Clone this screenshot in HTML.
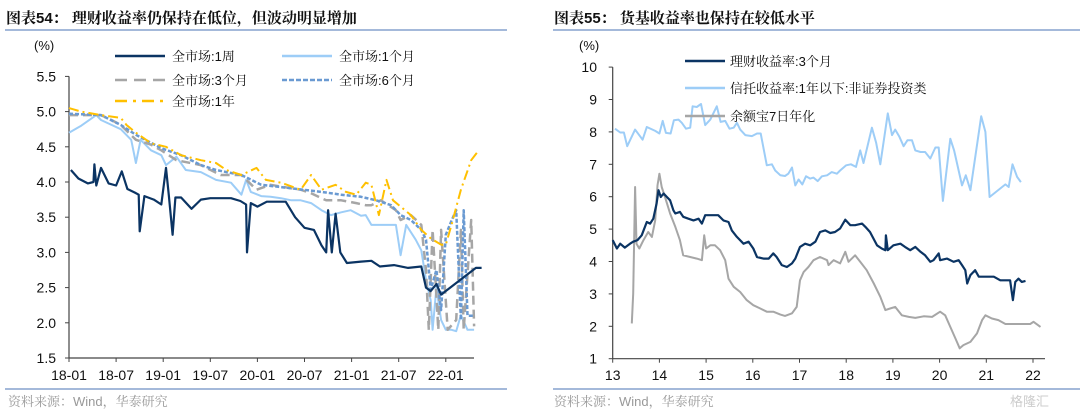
<!DOCTYPE html>
<html><head><meta charset="utf-8">
<style>
html,body{margin:0;padding:0;background:#fff;}
svg{display:block;}
text{font-family:"Liberation Sans","Noto Sans CJK SC",sans-serif;}
.cn{font-family:"Liberation Sans","Noto Serif CJK SC","Noto Sans CJK SC",serif;}
</style></head>
<body>
<svg id="root" width="1080" height="415" viewBox="0 0 1080 415" xmlns="http://www.w3.org/2000/svg">
  <text x="6" y="23" font-size="15" font-weight="bold" fill="#111" class="cn">图表54：  理财收益率仍保持在低位，但波动明显增加</text>
  <line x1="5" y1="30" x2="507" y2="30" stroke="#6d8fc4" stroke-width="1.2"/>
  <text x="554" y="23" font-size="15" font-weight="bold" fill="#111" class="cn">图表55：  货基收益率也保持在较低水平</text>
  <line x1="553" y1="30" x2="1080" y2="30" stroke="#6d8fc4" stroke-width="1.2"/>
  <line x1="5" y1="389" x2="507" y2="389" stroke="#6d8fc4" stroke-width="1.2"/>
  <line x1="553" y1="389" x2="1080" y2="389" stroke="#6d8fc4" stroke-width="1.2"/>
  <text x="8" y="406" font-size="13" fill="#999" class="cn">资料来源：Wind，华泰研究</text>
  <text x="554" y="406" font-size="13" fill="#999" class="cn">资料来源：Wind，华泰研究</text>
  <text x="1010" y="406" font-size="13" fill="#ccc">格隆汇</text>
  <g id="left"></g>
  <g id="right"></g>
</svg>
<script>
// ---------- LEFT CHART DATA ----------
const leftXTicks = ["18-01","18-07","19-01","19-07","20-01","20-07","21-01","21-07","22-01"];
const leftXTickYears = [2018,2018.5,2019,2019.5,2020,2020.5,2021,2021.5,2022];
const leftYTicks = [1.5,2.0,2.5,3.0,3.5,4.0,4.5,5.0,5.5];
const week1Dates = [2018.02,2018.10,2018.2,2018.26,2018.27,2018.29,2018.34,2018.42,2018.5,2018.56,2018.62,2018.7,2018.74,2018.75,2018.8,2018.9,2018.98,2019.03,2019.06,2019.1,2019.13,2019.19,2019.3,2019.4,2019.5,2019.72,2019.82,2019.88,2019.89,2019.93,2020.0,2020.1,2020.3,2020.4,2020.5,2020.6,2020.68,2020.73,2020.75,2020.79,2020.83,2020.88,2020.95,2021.1,2021.21,2021.3,2021.45,2021.6,2021.74,2021.79,2021.84,2021.9,2021.95,2022.32,2022.38];
const week1Values = [4.17,4.05,3.98,4.0,4.25,3.95,4.2,3.98,3.95,4.15,3.9,3.85,3.82,3.3,3.8,3.75,3.68,4.2,3.8,3.25,3.78,3.78,3.62,3.75,3.77,3.77,3.73,3.68,3.0,3.7,3.65,3.72,3.72,3.5,3.35,3.32,3.1,3.0,3.6,3.0,3.55,3.0,2.85,2.87,2.88,2.8,2.82,2.78,2.8,2.5,2.45,2.55,2.4,2.78,2.78];
const month1Dates = [2018.0,2018.13,2018.29,2018.34,2018.55,2018.66,2018.71,2018.76,2018.87,2018.98,2019.03,2019.14,2019.24,2019.40,2019.56,2019.72,2019.83,2019.88,2019.93,2020.04,2020.14,2020.25,2020.36,2020.46,2020.57,2020.68,2020.78,2020.89,2020.99,2021.10,2021.15,2021.21,2021.31,2021.47,2021.52,2021.58,2021.68,2021.74,2021.79,2021.84,2021.86,2021.90,2021.95,2022.00,2022.06,2022.11,2022.16,2022.23,2022.30];
const month1Values = [4.70,4.80,4.95,4.88,4.75,4.60,4.27,4.60,4.45,4.38,4.24,4.36,4.17,4.14,4.03,3.99,3.82,4.03,3.86,3.80,3.79,3.77,3.74,3.74,3.70,3.60,3.53,3.57,3.60,3.52,3.53,3.39,3.39,3.39,2.96,3.39,3.18,3.03,2.61,2.32,1.90,2.50,2.04,1.90,1.90,1.88,2.11,1.90,1.90];
const month3Dates = [2018.0,2018.34,2018.45,2018.55,2018.71,2018.87,2018.98,2019.14,2019.40,2019.61,2019.83,2019.99,2020.14,2020.36,2020.46,2020.57,2020.73,2020.89,2021.05,2021.15,2021.21,2021.31,2021.47,2021.52,2021.63,2021.74,2021.79,2021.82,2021.86,2021.92,2021.95,2022.02,2022.11,2022.16,2022.19,2022.27,2022.30];
const month3Values = [4.95,4.95,4.88,4.81,4.60,4.53,4.45,4.31,4.24,4.10,4.10,3.89,3.96,3.91,3.89,3.84,3.74,3.74,3.70,3.67,3.67,3.74,3.60,3.46,3.53,3.39,2.75,1.90,3.32,1.90,3.32,1.90,2.04,3.32,1.90,3.46,1.95];
const month6Dates = [2018.0,2018.34,2018.55,2018.71,2018.98,2019.19,2019.40,2019.56,2019.83,2020.04,2020.36,2020.68,2020.89,2021.10,2021.26,2021.42,2021.52,2021.63,2021.74,2021.79,2021.84,2021.90,2021.95,2022.00,2022.06,2022.11,2022.16,2022.19,2022.23,2022.30];
const month6Values = [4.97,4.95,4.81,4.67,4.48,4.38,4.24,4.17,4.10,3.96,3.91,3.86,3.82,3.79,3.74,3.67,3.53,3.46,3.32,3.18,2.47,2.75,2.18,3.25,3.45,3.60,2.04,3.60,2.10,2.10];
const year1Dates = [2018.0,2018.13,2018.34,2018.55,2018.61,2018.71,2018.87,2019.03,2019.19,2019.40,2019.56,2019.67,2019.83,2019.99,2020.09,2020.25,2020.46,2020.57,2020.68,2020.83,2020.94,2021.05,2021.15,2021.21,2021.29,2021.37,2021.44,2021.63,2021.74,2021.84,2021.95,2022.00,2022.06,2022.16,2022.27,2022.35];
const year1Values = [5.05,5.00,4.95,4.91,4.81,4.70,4.55,4.50,4.38,4.31,4.27,4.17,4.10,4.20,4.03,3.99,3.89,4.10,3.89,3.96,3.86,3.82,3.99,3.96,3.53,4.03,3.74,3.53,3.32,3.20,3.11,3.11,3.39,3.89,4.31,4.45];

// ---------- RIGHT CHART DATA ----------
const rightXTicks = ["13","14","15","16","17","18","19","20","21","22"];
const rightYTicks = [1,2,3,4,5,6,7,8,9,10];
const wealthDates = [13.00,13.09,13.16,13.26,13.37,13.44,13.53,13.62,13.73,13.80,13.87,13.94,13.98,14.03,14.09,14.16,14.23,14.30,14.34,14.44,14.51,14.62,14.73,14.84,14.91,14.98,15.12,15.26,15.37,15.48,15.55,15.66,15.80,15.91,16.01,16.09,16.23,16.34,16.44,16.51,16.62,16.73,16.84,16.91,17.01,17.12,17.23,17.34,17.44,17.55,17.66,17.76,17.87,17.98,18.09,18.19,18.34,18.41,18.51,18.66,18.76,18.84,18.85,18.89,19.01,19.16,19.26,19.37,19.48,19.59,19.69,19.80,19.87,19.98,20.01,20.16,20.30,20.41,20.48,20.55,20.59,20.66,20.76,20.84,21.01,21.16,21.30,21.41,21.51,21.57,21.62,21.69,21.76,21.84];
const wealthValues = [4.66,4.40,4.55,4.43,4.55,4.61,4.66,4.81,5.22,5.17,5.32,5.79,6.20,5.99,6.10,5.99,5.89,5.58,5.48,5.53,5.38,5.32,5.27,5.32,5.17,5.43,5.43,5.43,5.27,5.22,4.96,4.76,4.55,4.61,4.40,4.14,4.09,4.09,4.25,4.14,3.89,3.83,3.94,4.09,4.45,4.55,4.50,4.61,4.91,4.96,4.88,4.91,5.02,5.29,5.12,5.12,5.17,5.07,4.91,4.50,4.40,4.35,4.81,4.35,4.50,4.55,4.45,4.35,4.45,4.30,4.19,3.99,4.04,4.25,4.04,4.09,3.99,4.04,3.89,3.73,3.32,3.58,3.73,3.53,3.53,3.53,3.42,3.42,3.42,2.81,3.37,3.47,3.37,3.40];
const trustDates = [13.05,13.16,13.24,13.31,13.48,13.64,13.73,13.91,14.00,14.07,14.14,14.24,14.31,14.41,14.48,14.57,14.66,14.71,14.80,14.89,14.98,15.09,15.23,15.31,15.41,15.50,15.59,15.66,15.73,15.84,15.98,16.09,16.17,16.30,16.41,16.48,16.59,16.69,16.76,16.84,16.91,16.98,17.06,17.14,17.23,17.30,17.39,17.48,17.59,17.69,17.80,17.87,18.00,18.10,18.21,18.30,18.37,18.55,18.64,18.73,18.89,18.98,19.05,19.14,19.23,19.31,19.41,19.48,19.59,19.69,19.80,19.91,19.98,20.07,20.23,20.31,20.48,20.56,20.66,20.89,20.98,21.07,21.41,21.48,21.56,21.66,21.74];
const trustValues = [8.10,7.98,7.98,7.56,8.07,7.76,8.15,8.03,7.95,8.34,7.97,7.95,8.36,8.38,8.28,8.10,8.13,8.79,8.77,8.86,8.21,8.38,8.79,8.31,8.34,8.10,8.13,8.28,8.07,7.90,7.87,7.95,7.95,6.97,7.00,6.81,6.66,6.64,6.71,6.90,6.35,6.53,6.38,6.63,6.56,6.59,6.48,6.63,6.66,6.76,6.71,6.81,6.97,7.00,6.92,7.43,7.04,8.13,7.67,7.00,8.57,7.90,8.07,7.85,7.56,7.74,7.74,7.43,7.38,7.38,7.18,7.52,7.52,5.87,7.79,7.43,6.35,6.66,6.20,8.48,8.00,5.99,6.38,6.30,7.00,6.61,6.45];
const yuebaoDates = [13.41,13.44,13.48,13.51,13.57,13.66,13.76,13.84,13.91,13.96,14.00,14.05,14.12,14.23,14.34,14.44,14.51,14.66,14.80,14.91,14.96,15.00,15.09,15.19,15.30,15.41,15.48,15.59,15.73,15.87,16.01,16.16,16.30,16.44,16.59,16.69,16.84,16.94,17.01,17.09,17.19,17.30,17.44,17.59,17.62,17.73,17.87,17.98,18.05,18.19,18.30,18.44,18.59,18.73,18.84,18.94,19.05,19.19,19.34,19.48,19.66,19.84,20.01,20.12,20.23,20.34,20.43,20.51,20.66,20.80,20.91,20.98,21.12,21.26,21.41,21.59,21.80,21.94,22.01,22.16];
const yuebaoValues = [2.09,3.01,6.30,4.55,4.40,4.66,4.91,4.76,5.27,6.35,6.71,6.30,5.99,5.48,5.07,4.66,4.19,4.14,4.09,4.04,4.81,4.40,4.50,4.50,4.35,4.04,3.47,3.22,3.06,2.81,2.65,2.55,2.45,2.45,2.36,2.32,2.40,2.60,3.42,3.68,3.83,4.04,4.14,4.04,3.89,4.04,3.94,4.30,3.99,4.19,3.99,3.73,3.32,2.91,2.50,2.55,2.60,2.34,2.29,2.26,2.31,2.29,2.45,2.34,1.98,1.62,1.32,1.42,1.52,1.78,2.19,2.34,2.24,2.19,2.07,2.07,2.07,2.07,2.14,1.98];

const NS = "http://www.w3.org/2000/svg";
function mk(parent, tag, attrs){
  const e = document.createElementNS(NS, tag);
  for (const k in attrs) e.setAttribute(k, attrs[k]);
  parent.appendChild(e);
  return e;
}
function pathD(xs, ys, fx, fy){
  return xs.map((x,i)=>(i?"L":"M")+fx(x).toFixed(1)+","+fy(ys[i]).toFixed(1)).join("");
}

// LEFT axes
const L = document.getElementById("left");
const lx = y => 69 + (y - 2018) * 94.2;
const ly = v => 358 - (v - 1.5) * 70.4;
let e;
e = mk(L, "line", {x1:69, y1:ly(5.5), x2:69, y2:358, stroke:"#444", "stroke-width":1.2});


e = mk(L, "line", {x1:69, y1:358, x2:474, y2:358, stroke:"#444", "stroke-width":1.2});


leftYTicks.forEach(v=>{
  e = mk(L, "line", {x1:65, y1:ly(v), x2:69, y2:ly(v), stroke:"#444"});
  
  
  e = mk(L, "text", {x:56, y:ly(v)+5, "font-size":14, fill:"#111", "text-anchor":"end"});
  e.textContent = v.toFixed(1);
  
  
});
leftXTicks.forEach((t,i)=>{
  const x = lx(leftXTickYears[i]);
  e = mk(L, "line", {x1:x, y1:358, x2:x, y2:362, stroke:"#444"});
  
  
  e = mk(L, "text", {x:x, y:380, "font-size":14, fill:"#111", "text-anchor":"middle"});
  e.textContent = t;
  
  
});
e = mk(L, "text", {x:34, y:50, "font-size":13, fill:"#111"});
e.textContent = "(%)";



const leftSeries = [
  {n:"series-1-month", xs:month1Dates, ys:month1Values, c:"#9dcdf7", w:2, d:""},
  {n:"series-3-month", xs:month3Dates, ys:month3Values, c:"#a6a6a6", w:2.5, d:"9,5"},
  {n:"series-6-month", xs:month6Dates, ys:month6Values, c:"#6a9ad2", w:2.5, d:"4,2"},
  {n:"series-1-year", xs:year1Dates, ys:year1Values, c:"#ffc000", w:2, d:"10,4,2,4"},
  {n:"series-1-week", xs:week1Dates, ys:week1Values, c:"#0b3463", w:2.2, d:""}
];
leftSeries.forEach(s=>{
  e = mk(L, "path", {d:pathD(s.xs, s.ys, lx, ly), fill:"none", stroke:s.c, "stroke-width":s.w, "stroke-dasharray":s.d||"none", "stroke-linejoin":"round"});
  
  
});
const leftLegend = [
  {t:"全市场:1周", c:"#0b3463", d:"", x:115, y:56},
  {t:"全市场:1个月", c:"#9dcdf7", d:"", x:282, y:56},
  {t:"全市场:3个月", c:"#a6a6a6", d:"12,7", x:115, y:80},
  {t:"全市场:6个月", c:"#6a9ad2", d:"5,2", x:282, y:80},
  {t:"全市场:1年", c:"#ffc000", d:"12,6,3,6", x:115, y:101}
];
leftLegend.forEach(g=>{
  e = mk(L, "line", {x1:g.x, y1:g.y, x2:g.x+50, y2:g.y, stroke:g.c, "stroke-width":2.5, "stroke-dasharray":g.d||"none"});
  
  
  e = mk(L, "text", {x:g.x+57, y:g.y+5, "font-size":13, fill:"#111", "class":"cn"});
  e.textContent = g.t;
  
  
});

// RIGHT axes
const R = document.getElementById("right");
const rx = y => 612.7 + (y - 13) * 46.7;
const ry = v => 358.7 - (v - 1) * 32.4;
e = mk(R, "line", {x1:612.7, y1:ry(10), x2:612.7, y2:358.7, stroke:"#444", "stroke-width":1.2});


e = mk(R, "line", {x1:612.7, y1:358.7, x2:1045, y2:358.7, stroke:"#444", "stroke-width":1.2});


rightYTicks.forEach(v=>{
  e = mk(R, "line", {x1:608.7, y1:ry(v), x2:612.7, y2:ry(v), stroke:"#444"});
  
  
  e = mk(R, "text", {x:597, y:ry(v)+5, "font-size":14, fill:"#111", "text-anchor":"end"});
  e.textContent = String(v);
  
  
});
rightXTicks.forEach((t,i)=>{
  const x = rx(13+i);
  e = mk(R, "line", {x1:x, y1:358.7, x2:x, y2:362.7, stroke:"#444"});
  
  
  e = mk(R, "text", {x:x, y:380, "font-size":14, fill:"#111", "text-anchor":"middle"});
  e.textContent = t;
  
  
});
e = mk(R, "text", {x:579, y:50, "font-size":13, fill:"#111"});
e.textContent = "(%)";



const rightSeries = [
  {n:"series-trust-yield", xs:trustDates, ys:trustValues, c:"#9dcdf7", w:2},
  {n:"series-yuebao-7d", xs:yuebaoDates, ys:yuebaoValues, c:"#a6a6a6", w:2},
  {n:"series-wealth-3-month", xs:wealthDates, ys:wealthValues, c:"#0b3463", w:2.2}
];
rightSeries.forEach(s=>{
  e = mk(R, "path", {d:pathD(s.xs, s.ys, rx, ry), fill:"none", stroke:s.c, "stroke-width":s.w, "stroke-linejoin":"round"});
  
  
});
const rightLegend = [
  {t:"理财收益率:3个月", c:"#0b3463", y:61},
  {t:"信托收益率:1年以下:非证券投资类", c:"#9dcdf7", y:88},
  {t:"余额宝7日年化", c:"#a6a6a6", y:116}
];
rightLegend.forEach(g=>{
  e = mk(R, "line", {x1:685, y1:g.y, x2:725, y2:g.y, stroke:g.c, "stroke-width":2.5});
  
  
  e = mk(R, "text", {x:730, y:g.y+5, "font-size":13, fill:"#111", "class":"cn"});
  e.textContent = g.t;
  
  
});
</script>
</body></html>
